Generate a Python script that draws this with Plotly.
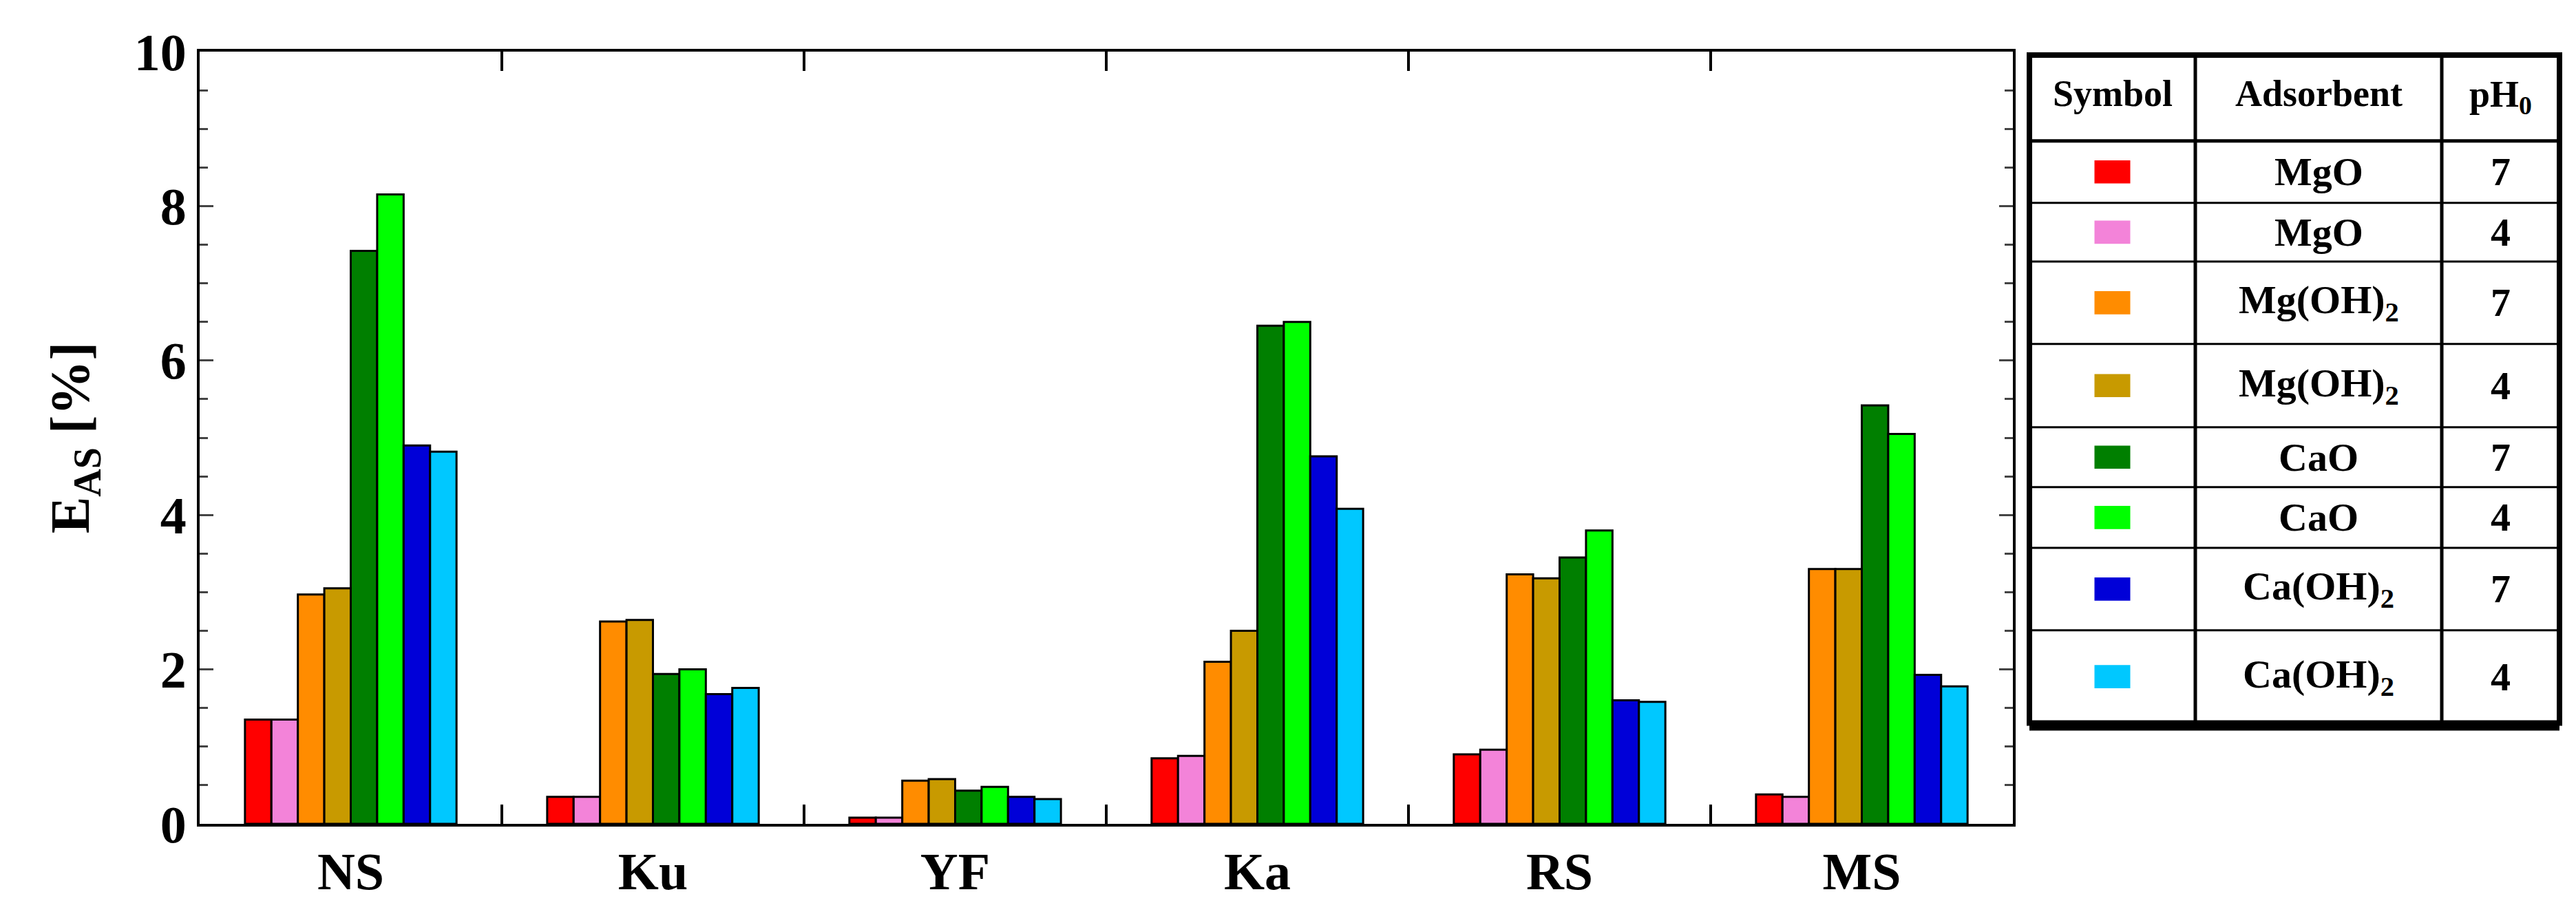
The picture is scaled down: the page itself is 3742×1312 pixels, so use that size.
import plotly.graph_objects as go

categories = ["NS", "Ku", "YF", "Ka", "RS", "MS"]
series_names = ["MgO pH7", "MgO pH4", "Mg(OH)2 pH7", "Mg(OH)2 pH4", "CaO pH7", "CaO pH4", "Ca(OH)2 pH7", "Ca(OH)2 pH4"]
colors = ["#ff0000", "#f383d9", "#ff8c00", "#c89a00", "#007f00", "#00ff00", "#0000d8", "#00c8ff"]
values = [
    [1.35, 0.35, 0.08, 0.85, 0.90, 0.38],
    [1.35, 0.35, 0.08, 0.88, 0.96, 0.35],
    [2.97, 2.62, 0.56, 2.10, 3.23, 3.30],
    [3.05, 2.64, 0.58, 2.50, 3.18, 3.30],
    [7.42, 1.94, 0.43, 6.45, 3.45, 5.42],
    [8.15, 2.00, 0.48, 6.50, 3.80, 5.05],
    [4.90, 1.68, 0.35, 4.76, 1.60, 1.93],
    [4.82, 1.76, 0.32, 4.08, 1.58, 1.78],
]
table_adsorbent = ["MgO", "MgO", "Mg(OH)<sub>2</sub>", "Mg(OH)<sub>2</sub>", "CaO", "CaO", "Ca(OH)<sub>2</sub>", "Ca(OH)<sub>2</sub>"]
table_ph = ["7", "4", "7", "4", "7", "4", "7", "4"]

W, H = 3742, 1312
L, R, T, B = 282, 2916, 67, 1200
FONT = "Liberation Serif"

def px(x):
    return (x - L) / (R - L)

def py(y):
    return (B - y) / (B - T)

fig = go.Figure()
for name, col, vals in zip(series_names, colors, values):
    fig.add_trace(go.Bar(x=categories, y=vals, name=name, marker=dict(color=col, line=dict(color="black", width=3))))

fig.update_layout(
    width=W, height=H, barmode="group", bargap=0.3, bargroupgap=0,
    plot_bgcolor="white", paper_bgcolor="white", showlegend=False,
    margin=dict(l=L, r=W - R, t=T, b=H - B),
    font=dict(family=FONT, color="black"),
)
fig.update_xaxes(showline=True, linecolor="black", linewidth=4, mirror=True,
                 ticks="", tickfont=dict(size=76, family=FONT, weight="bold"),
                 showgrid=False)
fig.update_yaxes(range=[0, 10], dtick=2, showline=True, linecolor="black", linewidth=4,
                 mirror="ticks", ticks="inside", ticklen=20, tickwidth=3,
                 minor=dict(dtick=0.5, ticks="inside", ticklen=12, tickwidth=3),
                 tickfont=dict(size=76, family=FONT, weight="bold"), showgrid=False, zeroline=False,
                 title=dict(text="<b>E<sub>AS</sub> [%]</b>", font=dict(size=80, family=FONT), standoff=40))

# category boundary ticks on bottom and top
for i in range(1, len(categories)):
    fig.add_shape(type="line", xref="x", yref="paper", x0=i - 0.5, x1=i - 0.5, y0=0, y1=0.025,
                  line=dict(color="black", width=4))
    fig.add_shape(type="line", xref="x", yref="paper", x0=i - 0.5, x1=i - 0.5, y0=1, y1=0.975,
                  line=dict(color="black", width=4))

# table
cols_x = [2940, 3181, 3539, 3710]
rows_y = [72, 198, 289, 375, 496, 618, 706, 795, 916, 1052]
fig.add_shape(type="rect", xref="paper", yref="paper", x0=px(cols_x[0]), x1=px(cols_x[-1]),
              y0=py(rows_y[-1]), y1=py(rows_y[0]), line=dict(color="black", width=8))
fig.add_shape(type="line", xref="paper", yref="paper", x0=px(cols_x[0]), x1=px(cols_x[-1]),
              y0=py(rows_y[-1] + 4), y1=py(rows_y[-1] + 4), line=dict(color="black", width=14))
for cx in cols_x[1:-1]:
    fig.add_shape(type="line", xref="paper", yref="paper", x0=px(cx), x1=px(cx),
                  y0=py(rows_y[-1]), y1=py(rows_y[0]), line=dict(color="black", width=5))
for i, ry in enumerate(rows_y[1:-1]):
    fig.add_shape(type="line", xref="paper", yref="paper", x0=px(cols_x[0]), x1=px(cols_x[-1]),
                  y0=py(ry), y1=py(ry), line=dict(color="black", width=5 if i == 0 else 3))

def txt(x, y, s, size=58):
    fig.add_annotation(xref="paper", yref="paper", x=px(x), y=py(y), text="<b>" + s + "</b>",
                       xanchor="center", yanchor="middle",
                       showarrow=False, font=dict(size=size, family=FONT, color="black"))

hy = (rows_y[0] + rows_y[1]) / 2
txt((cols_x[0] + cols_x[1]) / 2, hy - 6, "Symbol", 54)
txt((cols_x[1] + cols_x[2]) / 2, hy - 6, "Adsorbent", 54)
txt((cols_x[2] + cols_x[3]) / 2, hy - 2, "pH<sub>0</sub>", 54)
for i in range(8):
    cy = (rows_y[i + 1] + rows_y[i + 2]) / 2
    sx = (cols_x[0] + cols_x[1]) / 2
    fig.add_shape(type="rect", xref="paper", yref="paper", x0=px(sx - 26), x1=px(sx + 26),
                  y0=py(cy + 17), y1=py(cy - 17), fillcolor=colors[i], line=dict(width=0))
    txt((cols_x[1] + cols_x[2]) / 2, cy, table_adsorbent[i])
    txt((cols_x[2] + cols_x[3]) / 2, cy, table_ph[i])

fig.write_html("out.html")
